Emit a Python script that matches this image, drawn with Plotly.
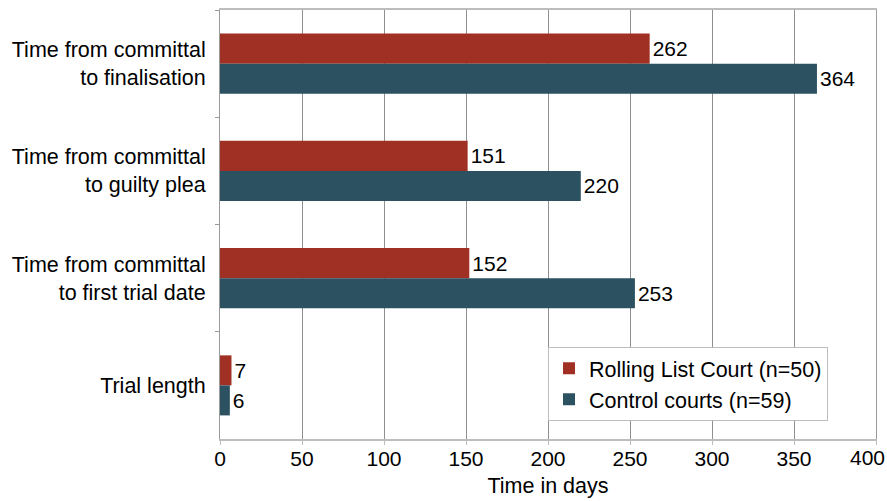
import plotly.graph_objects as go

# Median times (days) by measure, top to bottom
categories = [
    "Time from committal<br>to finalisation",
    "Time from committal<br>to guilty plea",
    "Time from committal<br>to first trial date",
    "Trial length",
]
rolling_list = [262, 151, 152, 7]
control_courts = [364, 220, 253, 6]
x_ticks = [0, 50, 100, 150, 200, 250, 300, 350, 400]

RED = "#A03024"
TEAL = "#2C5262"
FONT = "Liberation Sans, Arial, sans-serif"
FS = 21.5
TICK_FS = 21

fig = go.Figure()
fig.add_trace(go.Bar(
    y=categories, x=rolling_list, orientation="h",
    name="Rolling List Court (n=50)",
    marker=dict(color=RED, line=dict(width=0)),
    text=[str(v) for v in rolling_list], textposition="outside",
    textfont=dict(size=21, color="black", family=FONT),
    cliponaxis=False,
))
fig.add_trace(go.Bar(
    y=categories, x=control_courts, orientation="h",
    name="Control courts (n=59)",
    marker=dict(color=TEAL, line=dict(width=0)),
    text=[str(v) for v in control_courts], textposition="outside",
    textfont=dict(size=21, color="black", family=FONT),
    cliponaxis=False,
))

# The last tick label sits flush against the right edge of the page
tick_text = [str(v) for v in x_ticks[:-1]] + [""]
fig.add_annotation(
    text=str(x_ticks[-1]), xref="paper", yref="paper", x=1.0168, y=0,
    xanchor="right", yanchor="top", yshift=-5, showarrow=False,
    font=dict(size=TICK_FS, family=FONT, color="black"),
)

fig.update_layout(
    width=887, height=501,
    margin=dict(l=220, r=11, t=10, b=62, autoexpand=False),
    paper_bgcolor="white", plot_bgcolor="white",
    font=dict(family=FONT, size=FS, color="black"),
    barmode="group", bargap=0.44, bargroupgap=0,
    showlegend=True,
    legend=dict(
        x=0.5, y=0.215, xanchor="left", yanchor="top",
        bgcolor="white", bordercolor="#BDBDBD", borderwidth=1,
        font=dict(size=FS, family=FONT), traceorder="normal",
        itemsizing="constant", tracegroupgap=0,
    ),
)
fig.update_xaxes(
    range=[0, 400], tickvals=x_ticks, ticktext=tick_text,
    showgrid=True, gridcolor="#8F8F8F", gridwidth=1,
    showline=True, linecolor="#BDBDBD", linewidth=2, mirror=True,
    ticks="",
    minor=dict(tickvals=x_ticks, ticks="outside", ticklen=4,
               tickcolor="#BDBDBD", showgrid=False),
    zeroline=False, automargin=False,
    title=dict(text="Time in days", font=dict(size=FS, family=FONT), standoff=9),
    tickfont=dict(size=TICK_FS, family=FONT),
)
fig.update_yaxes(
    autorange="reversed", categoryorder="array", categoryarray=categories,
    showgrid=False, showline=True, linecolor="#9A9A9A", linewidth=1, mirror=True,
    ticks="outside", tickson="boundaries", ticklen=4, tickcolor="#9A9A9A",
    tickfont=dict(size=FS, family=FONT), automargin=False,
    ticklabelstandoff=9,
)

fig.write_html("out.html")
